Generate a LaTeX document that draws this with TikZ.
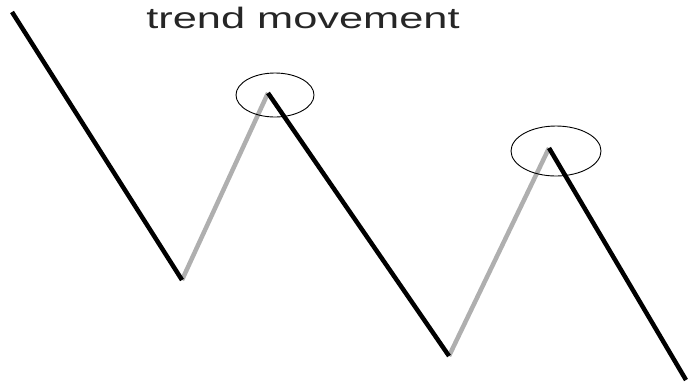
\documentclass[tikz,border=0pt]{standalone}
\usepackage{fontspec}
\setmainfont{Liberation Sans}
\usepackage{graphicx}
\definecolor{upgray}{RGB}{175,175,175}
\begin{document}
\begin{tikzpicture}[x=1pt,y=-1pt,
  down/.style={line width=4.5pt,black},
  up/.style={line width=4.5pt,upgray},
  ring/.style={draw=black,line width=0.9pt}]
\useasboundingbox (0,0) rectangle (692,384);
\coordinate (s) at (12,12);
\coordinate (b1) at (182,280);
\coordinate (p1) at (268,93);
\coordinate (b2) at (449,356);
\coordinate (p2) at (549,148);
\coordinate (e) at (686,380);
\draw[up] (b1) -- (p1);
\draw[up] (b2) -- (p2);
\draw[down] (s) -- (b1);
\draw[down] (p1) -- (b2);
\draw[down] (p2) -- (e);
\draw[ring] (275,95) ellipse [x radius=39, y radius=22];
\draw[ring] (556,151) ellipse [x radius=45, y radius=25];
\node[font=\fontsize{29.5}{30}\selectfont, text=black!85, anchor=base] (title) at (303,28) {\scalebox{1.47}[1]{trend movement}};
\end{tikzpicture}
\end{document}
